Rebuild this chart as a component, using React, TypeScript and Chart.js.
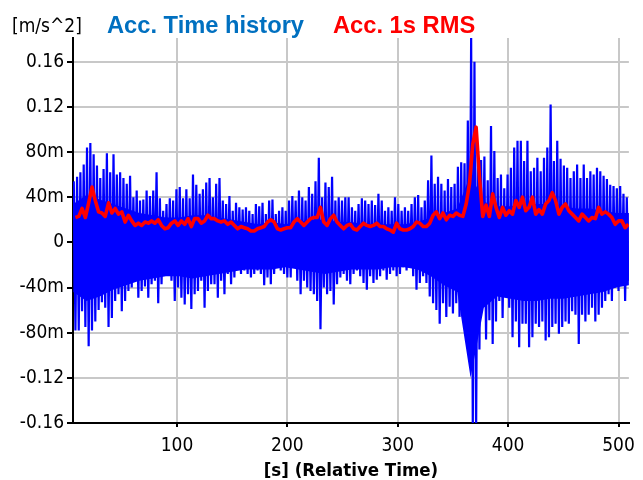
import React, { useEffect, useRef } from "react";
import { Chart, registerables } from "chart.js";

Chart.register(...registerables);

// Sampling grid of the read-off spike envelopes (seconds, relative time)
const T0 = 6.5;
const DT = 3;

// Acc. time history: upper / lower spike envelope per 3 s window, in mm/s^2
const ACC_UPPER_MILLI = [
  54, 58, 62, 69, 84, 88, 78, 68, 57, 65, 79, 62, 78, 60, 62, 57, 52, 59, 40, 46,
  37, 38, 46, 41, 46, 62, 39, 28, 34, 39, 37, 47, 49, 39, 47, 39, 60, 51, 43, 47,
  53, 57,
  40, 52, 57, 37, 34, 41, 28, 35, 31, 29, 31, 28, 25, 34, 32, 35, 25, 37, 38, 25,
  28, 31, 28, 37, 41, 37, 46, 40, 37, 49, 43, 54, 75, 40, 53, 49, 58, 37, 40, 37,
  40, 40,
  31, 28, 34, 39, 37, 34, 37, 33, 43, 37, 28, 31, 28, 40, 34, 28, 31, 28, 34, 40,
  42, 31, 37, 55, 77, 52, 58, 52, 46, 56, 49, 52, 67, 71, 70, 108, 182, 160, 80, 73,
  76, 55,
  103, 81, 57, 60, 48, 60, 66, 84, 90, 90, 72, 90, 63, 66, 75, 63, 75, 84, 122, 72,
  90, 74, 68, 66, 57, 63, 69, 57, 69, 57, 63, 60, 66, 63, 59, 56, 51, 50, 48, 50,
  43, 40,
];

const ACC_LOWER_MILLI = [
  -78, -78, -61, -75, -92, -78, -70, -60, -53, -58, -75, -67, -52, -46, -61, -52, -43, -40, -34, -49,
  -43, -39, -49, -37, -34, -54, -37, -22, -28, -34, -52, -40, -49, -55, -46, -59, -46, -43, -34, -58,
  -43, -37,
  -37, -49, -34, -46, -28, -37, -31, -22, -28, -25, -28, -31, -28, -25, -28, -38, -31, -37, -28, -22,
  -25, -28, -31, -31, -22, -34, -46, -34, -40, -43, -46, -52, -77, -40, -46, -43, -55, -37, -31, -28,
  -34, -37,
  -28, -25, -30, -36, -42, -30, -36, -33, -30, -25, -33, -28, -25, -30, -28, -22, -25, -22, -30, -42,
  -36, -30, -36, -48, -54, -60, -72, -54, -66, -57, -63, -54, -66, -60, -72, -101, -165, -168, -95, -48,
  -86, -69,
  -90, -70, -52, -67, -46, -58, -84, -70, -93, -72, -72, -93, -84, -72, -75, -70, -87, -84, -75, -72,
  -81, -75, -70, -72, -61, -64, -90, -64, -70, -64, -58, -70, -64, -58, -52, -46, -52, -40, -43, -34,
  -52, -34,
];

// Dense (solid) core of the time history, every 12 s, in mm/s^2
const CORE_T0 = 6;
const CORE_DT = 12;
const CORE_UPPER_MILLI = [
  34, 42, 38, 34, 30, 26, 24, 22, 22, 24, 24, 22, 20, 18, 16, 18, 16, 18, 20, 20,
  18, 18, 16, 16, 16, 16, 18, 22, 26, 30, 60, 36, 32, 32, 34, 34, 34, 32, 30, 30,
  28, 26, 26,
];
const CORE_LOWER_MILLI = [
  -44, -52, -48, -42, -38, -34, -32, -30, -30, -32, -30, -28, -26, -24, -24, -24, -22, -24, -26, -28,
  -26, -24, -24, -24, -22, -22, -24, -30, -38, -44, -120, -58, -48, -50, -52, -52, -50, -50, -48, -46,
  -44, -40, -38,
];

// Acc. 1s RMS, in mm/s^2
const RMS_MILLI = [
  22, 23, 30, 22, 35, 49, 37, 27, 26, 23, 35, 26, 30, 25, 27, 18, 24, 19, 15, 17,
  15, 18, 17, 19, 17, 20, 15, 12, 13, 17, 19, 15, 19, 16, 21, 14, 21, 21, 17, 19,
  24, 21,
  21, 19, 18, 19, 16, 18, 15, 12, 14, 13, 12, 10, 10, 12, 13, 14, 18, 20, 18, 12,
  11, 12, 13, 13, 18, 21, 18, 15, 18, 21, 22, 22, 31, 18, 15, 21, 24, 18, 15, 12,
  15, 16,
  12, 11, 14, 17, 15, 14, 15, 17, 14, 14, 12, 11, 9, 17, 12, 11, 11, 12, 14, 18,
  17, 14, 14, 17, 24, 27, 21, 26, 20, 24, 23, 26, 24, 23, 34, 52, 87, 102, 58, 23,
  33, 23,
  43, 31, 22, 31, 24, 28, 25, 37, 31, 40, 28, 31, 40, 25, 29, 25, 34, 37, 44, 37,
  25, 31, 34, 28, 25, 22, 19, 25, 22, 19, 22, 21, 31, 25, 27, 25, 22, 16, 19, 19,
  13, 16,
];

const X_MIN = 5.8;
const X_MAX = 509.4;
const Y_MIN = -0.16;
const Y_MAX = 0.181;
const X_TICKS = [100, 200, 300, 400, 500];
const Y_TICKS = [-0.16, -0.12, -0.08, -0.04, 0, 0.04, 0.08, 0.12, 0.16];
const Y_TICK_LABELS = ["-0.16", "-0.12", "-80m", "-40m", "0", "40m", "80m", "0.12", "0.16"];

const UNIT_LABEL = "[m/s^2]";
const SERIES_NAMES = ["Acc. Time history", "Acc. 1s RMS"];
const X_TITLE = "[s] (Relative Time)";

const TICK_FONT = '"DejaVu Sans Condensed", "DejaVu Sans", sans-serif';
const BLUE = "#0000FF";

export default function App() {
  const ref = useRef<HTMLCanvasElement | null>(null);

  useEffect(() => {
    document.body.style.margin = "0";
    const canvas = ref.current;
    if (!canvas) return;

    const accData: { x: number; y: number }[] = [];
    ACC_UPPER_MILLI.forEach((u, k) => {
      const t = T0 + k * DT;
      accData.push({ x: t, y: u / 1000 });
      accData.push({ x: t + DT / 2, y: ACC_LOWER_MILLI[k] / 1000 });
    });
    const coreUp = CORE_UPPER_MILLI.map((v, k) => ({ x: CORE_T0 + k * CORE_DT, y: v / 1000 }));
    const coreLo = CORE_LOWER_MILLI.map((v, k) => ({ x: CORE_T0 + k * CORE_DT, y: v / 1000 }));
    const rmsData = RMS_MILLI.map((r, k) => ({ x: T0 + DT / 2 + k * DT, y: r / 1000 }));

    const headerPlugin = {
      id: "header",
      afterDraw(chart: any) {
        const ctx = chart.ctx;
        ctx.save();
        ctx.textBaseline = "alphabetic";
        ctx.textAlign = "left";
        ctx.fillStyle = "#000";
        ctx.font = `19px ${TICK_FONT}`;
        ctx.fillText(UNIT_LABEL, 12, 32);
        ctx.font = 'bold 23.7px "Liberation Sans", Arial, sans-serif';
        ctx.fillStyle = "#0070C0";
        ctx.fillText(SERIES_NAMES[0], 107, 33);
        ctx.fillStyle = "#FF0000";
        ctx.fillText(SERIES_NAMES[1], 333, 33);
        ctx.restore();
      },
    };

    const chart = new Chart(canvas, {
      type: "line",
      data: {
        datasets: [
          {
            label: SERIES_NAMES[1],
            data: rmsData,
            borderColor: "#FF0000",
            borderWidth: 3.6,
            pointRadius: 0,
            tension: 0,
            borderJoinStyle: "round",
            order: 0,
          },
          {
            label: SERIES_NAMES[0],
            data: accData,
            borderColor: BLUE,
            borderWidth: 2.2,
            pointRadius: 0,
            tension: 0,
            order: 1,
          },
          {
            label: "core-up",
            data: coreUp,
            borderColor: BLUE,
            borderWidth: 0,
            backgroundColor: BLUE,
            pointRadius: 0,
            tension: 0,
            fill: "+1",
            order: 2,
          },
          {
            label: "core-lo",
            data: coreLo,
            borderColor: BLUE,
            borderWidth: 0,
            pointRadius: 0,
            tension: 0,
            fill: false,
            order: 3,
          },
        ],
      },
      options: {
        responsive: false,
        animation: false,
        events: [],
        layout: { padding: { top: 38, right: 10, left: 0, bottom: 0 } },
        plugins: {
          legend: { display: false },
          tooltip: { enabled: false },
          title: { display: false },
        },
        scales: {
          x: {
            type: "linear",
            min: X_MIN,
            max: X_MAX,
            afterBuildTicks: (scale: any) => {
              scale.ticks = X_TICKS.map((v) => ({ value: v }));
            },
            afterFit: (scale: any) => {
              scale.height = 57;
            },
            grid: {
              color: "#c8c8c8",
              lineWidth: 2,
              tickColor: "#000",
              tickLength: 4,
              drawTicks: true,
            },
            border: { display: true, color: "#000", width: 2 },
            ticks: {
              color: "#000",
              font: { family: TICK_FONT, size: 19 },
              padding: 8,
              maxRotation: 0,
              autoSkip: false,
              callback: (v: any) => String(v),
            },
            title: {
              display: true,
              text: X_TITLE,
              color: "#000",
              font: { family: TICK_FONT, size: 18.5, weight: "bold", lineHeight: 0.9 },
              padding: { top: 0, bottom: 0 },
            },
          },
          y: {
            type: "linear",
            min: Y_MIN,
            max: Y_MAX,
            afterBuildTicks: (scale: any) => {
              scale.ticks = Y_TICKS.map((v) => ({ value: v }));
            },
            afterFit: (scale: any) => {
              scale.width = 73;
            },
            grid: {
              color: "#c8c8c8",
              lineWidth: 2,
              tickColor: "#000",
              tickLength: 6,
              drawTicks: true,
            },
            border: { display: true, color: "#000", width: 2 },
            ticks: {
              color: "#000",
              font: { family: TICK_FONT, size: 19 },
              padding: 3,
              autoSkip: false,
              callback: (v: any) => {
                const i = Y_TICKS.findIndex((t) => Math.abs(t - Number(v)) < 1e-9);
                return i >= 0 ? Y_TICK_LABELS[i] : "";
              },
            },
          },
        },
      },
      plugins: [headerPlugin],
    } as any);

    return () => chart.destroy();
  }, []);

  return (
    <div style={{ position: "absolute", left: 0, top: 0, width: 643, height: 480, background: "#fff" }}>
      <canvas ref={ref} width={643} height={480} style={{ width: 643, height: 480 }} />
    </div>
  );
}
